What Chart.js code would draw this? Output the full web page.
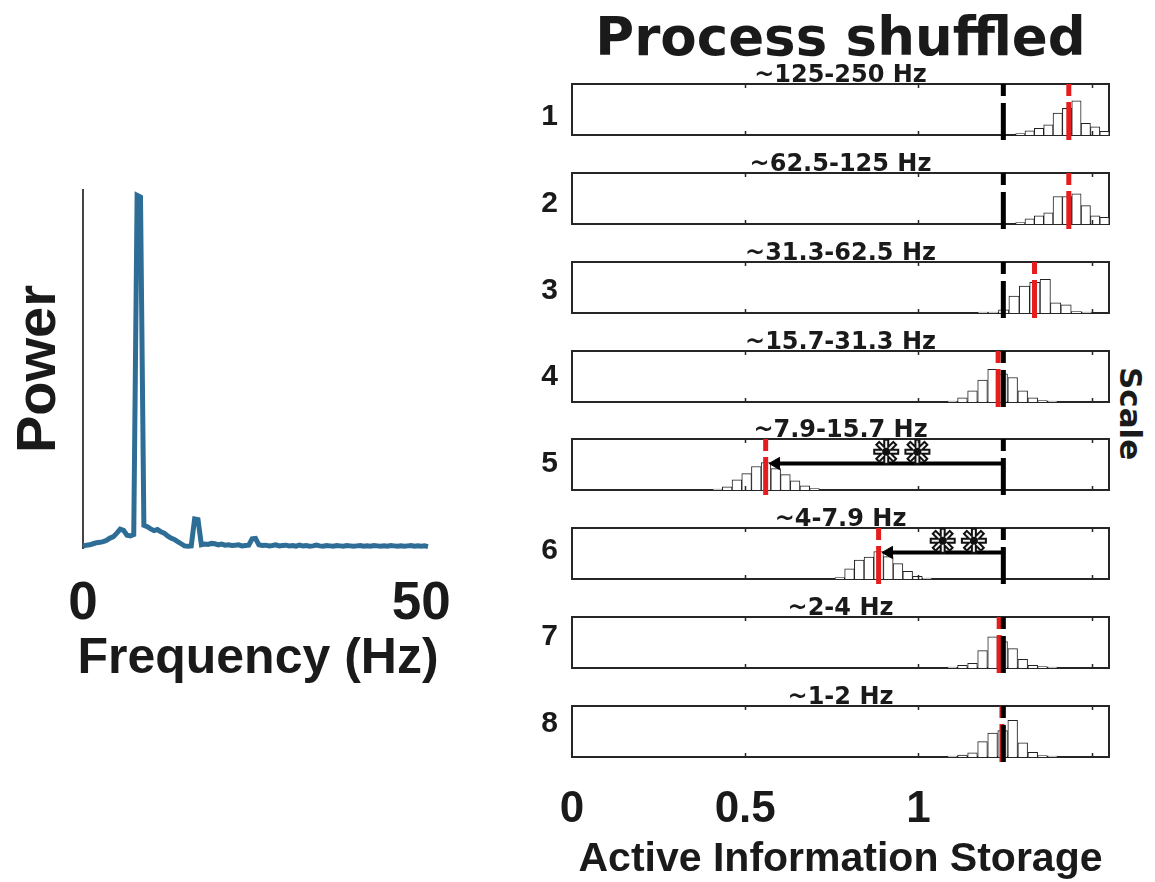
<!DOCTYPE html>
<html>
<head>
<meta charset="utf-8">
<script src="https://cdn.jsdelivr.net/npm/chart.js@4.4.1/dist/chart.umd.min.js"></script>
<style>
  html, body { margin: 0; padding: 0; background: #ffffff; }
  body { width: 1155px; height: 882px; position: relative; overflow: hidden; }
  canvas { position: absolute; }
  #scaleLabel {
    position: absolute; left: 1114px; top: 367px;
    writing-mode: vertical-rl;
    font: bold 31px 'DejaVu Sans', sans-serif; color: #1a1a1a; line-height: 34px;
  }
</style>
</head>
<body>
<canvas id="spec" width="516" height="560" style="left:0px;top:150px"></canvas>
<div id="scaleLabel">Scale</div>
<script>
// ---------------- DATA ----------------
// Left panel: power spectrum
const freqHz = [
  0,0.5,1,1.5,2,2.5,3,3.5,4,4.5,
  5,5.5,6,6.5,7,7.5,8,8.5,9,9.5,
  10,10.5,11,11.5,12,12.5,13,13.5,14,14.5,
  15,15.5,16,16.5,17,17.5,18,18.5,19,19.5,
  20,20.5,21,21.5,22,22.5,23,23.5,24,24.5,
  25,25.5,26,26.5,27,27.5,28,28.5,29,29.5,
  30,30.5,31,31.5,32,32.5,33,33.5,34,34.5,
  35,35.5,36,36.5,37,37.5,38,38.5,39,39.5,
  40,40.5,41,41.5,42,42.5,43,43.5,44,44.5,
  45,45.5,46,46.5,47,47.5,48,48.5,49,49.5,
  50,50.5,51
];
const powerValues = [
  0.5,0.8,0.9,1.2,1.5,1.6,1.8,2.2,2.8,3.2,
  4.2,5.3,5.0,3.6,3.4,3.8,99.5,99,6.4,6.0,
  5.4,4.9,5.2,4.6,4.2,3.4,2.8,2.4,1.8,1.2,
  0.6,0.5,0.6,8.2,8.0,0.9,1.1,1.0,1.3,1.2,
  0.9,1.1,0.8,0.9,0.7,0.8,0.9,0.6,0.7,0.8,
  2.6,2.7,0.9,0.7,0.8,0.6,0.7,0.9,0.6,0.7,
  0.8,0.6,0.7,0.5,0.8,0.6,0.7,0.5,0.6,0.8,
  0.6,0.5,0.7,0.6,0.5,0.7,0.6,0.5,0.7,0.6,
  0.5,0.6,0.7,0.5,0.6,0.5,0.7,0.6,0.5,0.6,
  0.5,0.7,0.6,0.5,0.6,0.5,0.6,0.7,0.5,0.6,
  0.5,0.6,0.4
];
const freqTicks = [0, 50];

// Right panels: AIS surrogate histograms per scale
const scaleLabels = ['1','2','3','4','5','6','7','8'];
const bandLabels = ['~125-250 Hz','~62.5-125 Hz','~31.3-62.5 Hz','~15.7-31.3 Hz',
                    '~7.9-15.7 Hz','~4-7.9 Hz','~2-4 Hz','~1-2 Hz'];
const originalAIS = 1.245;
const shuffledMeanAIS = [1.434, 1.434, 1.335, 1.230, 0.559, 0.885, 1.233, 1.241];
const significance = ['', '', '', '', '**', '**', '', ''];
const aisTicks = [0, 0.5, 1];
const aisMinorTicks = [0.5, 1, 1.5];

const bins1 = [1.294,1.321,1.348,1.375,1.402,1.429,1.456,1.483,1.510,1.537];
const counts1 = [3, 8, 13, 20, 43, 52, 67, 23, 16, 7];
const bins2 = [1.294,1.321,1.348,1.375,1.402,1.429,1.456,1.483,1.510,1.537];
const counts2 = [3, 10, 16, 22, 54, 54, 59, 36, 16, 13];
const bins3 = [1.186,1.216,1.246,1.276,1.306,1.336,1.366,1.396,1.426,1.456,1.486];
const counts3 = [2, 2, 6, 33, 53, 60, 66, 20, 16, 3, 2];
const bins4 = [1.098,1.127,1.156,1.185,1.214,1.243,1.272,1.301,1.330,1.358,1.387];
const counts4 = [2, 8, 22, 43, 64, 55, 48, 22, 8, 3, 2];
const bins5 = [0.420,0.448,0.476,0.504,0.532,0.560,0.588,0.616,0.644,0.672,0.700];
const counts5 = [2, 6, 20, 32, 46, 54, 42, 30, 18, 8, 3];
const bins6 = [0.773,0.801,0.829,0.857,0.885,0.913,0.941,0.969,0.997,1.025];
const counts6 = [3, 20, 37, 43, 54, 44, 30, 15, 5, 2];
const bins7 = [1.098,1.127,1.156,1.185,1.214,1.243,1.272,1.301,1.330,1.358,1.387];
const counts7 = [2, 5, 9, 34, 61, 52, 38, 17, 5, 3, 2];
const bins8 = [1.098,1.127,1.156,1.185,1.214,1.243,1.272,1.301,1.330,1.358,1.387];
const counts8 = [2, 4, 8, 30, 47, 52, 72, 28, 9, 3, 2];

const allBins = [bins1, bins2, bins3, bins4, bins5, bins6, bins7, bins8];
const allCounts = [counts1, counts2, counts3, counts4, counts5, counts6, counts7, counts8];

// ---------------- STYLE / LAYOUT ----------------
const TEXT = '#1a1a1a';
const ARIAL = "'Liberation Sans', Arial, sans-serif";
const DEJAVU = "'DejaVu Sans', sans-serif";
const BOX = '#262626';
const PANEL_TOPS = [84, 173, 262, 351, 439, 528, 617, 706];
const BOX_H = 51;
const LABEL_POS = [35, 40, 44, 49, 52, 56, 61, 65]; // vertical placement of panel numbers (% of box)

// ---------------- LEFT: power spectrum ----------------
new Chart(document.getElementById('spec'), {
  type: 'line',
  data: {
    datasets: [{
      data: freqHz.map((f, i) => ({ x: f, y: powerValues[i] })),
      borderColor: '#2e6e96',
      borderWidth: 5,
      pointRadius: 0,
      tension: 0,
      borderJoinStyle: 'miter',
      clip: false
    }]
  },
  options: {
    responsive: false, animation: false, events: [],
    layout: { autoPadding: false, padding: { top: 40, right: 0, left: 0, bottom: 0 } },
    plugins: {
      legend: { display: false }, tooltip: { enabled: false },
      title: { display: true, position: 'bottom', fullSize: true, text: 'Frequency (Hz)', color: TEXT,
               font: { family: ARIAL, weight: 'bold', size: 50, lineHeight: 1 },
               padding: { top: 0, bottom: 26 } }
    },
    scales: {
      x: {
        type: 'linear', min: 0, max: 51,
        grid: { display: false, drawTicks: false },
        border: { display: false },
        afterBuildTicks: s => { s.ticks = freqTicks.map(v => ({ value: v })); },
        ticks: { padding: 25, color: TEXT, maxRotation: 0, font: { family: ARIAL, weight: 'bold', size: 53 } },
        afterFit: s => { s.height = 86; s.paddingLeft = 0; s.paddingRight = 0; }
      },
      y: {
        type: 'linear', min: 0, max: 101,
        grid: { display: false, drawTicks: false },
        border: { display: true, color: '#444444', width: 2 },
        ticks: { display: false },
        title: { display: true, text: 'Power', color: TEXT,
                 font: { family: ARIAL, weight: 'bold', size: 56 }, padding: { top: 6, bottom: 0 } },
        afterFit: s => { s.width = 83; }
      },
      yPad: {
        type: 'linear', position: 'right', display: true,
        grid: { display: false, drawTicks: false },
        border: { display: false },
        ticks: { display: false },
        afterFit: s => { s.width = 88; s.paddingTop = 0; s.paddingBottom = 0; }
      }
    }
  }
});

// ---------------- RIGHT: histogram panels ----------------
const innerTicks = {
  id: 'innerTicks',
  afterDatasetsDraw(chart) {
    const { ctx, chartArea, scales } = chart;
    ctx.save();
    ctx.strokeStyle = BOX; ctx.lineWidth = 1.5;
    aisMinorTicks.forEach(v => {
      const px = Math.round(scales.x.getPixelForValue(v)) + 0.5;
      ctx.beginPath();
      ctx.moveTo(px, chartArea.bottom); ctx.lineTo(px, chartArea.bottom - 4);
      ctx.moveTo(px, chartArea.top); ctx.lineTo(px, chartArea.top + 4);
      ctx.stroke();
    });
    ctx.restore();
  }
};

for (let k = 0; k < 8; k++) {
  const isFirst = k === 0, isLast = k === 7;
  const canvasTop = isFirst ? 0 : PANEL_TOPS[k] - 30;
  const chartTop = PANEL_TOPS[k] - canvasTop;
  const height = isLast ? 882 - canvasTop : chartTop + BOX_H + 10;
  const cv = document.createElement('canvas');
  cv.width = 655; cv.height = height;
  cv.style.left = '500px'; cv.style.top = canvasTop + 'px';
  document.body.appendChild(cv);

  const red = shuffledMeanAIS[k];
  const datasets = [
    { type: 'line', label: 'process AIS',
      data: [{ x: originalAIS, y: 100 }, { x: originalAIS, y: -10 }],
      borderColor: '#000000', borderWidth: 5, borderDash: [12, 7, 200, 0],
      pointRadius: 0, clip: false, order: 1 },
    { type: 'line', label: 'shuffled mean',
      data: [{ x: red, y: 100 }, { x: red, y: -10 }],
      borderColor: '#e41e1e', borderWidth: 5, borderDash: [12, 6, 200, 0],
      pointRadius: 0, clip: false, order: 2 },
    { type: 'bar', label: 'surrogates',
      data: allBins[k].map((b, i) => ({ x: b, y: allCounts[k][i] })),
      backgroundColor: '#ffffff', borderColor: '#222222', borderWidth: 1,
      barPercentage: 1, categoryPercentage: 1, order: 3 }
  ];
  if (significance[k]) {
    const arrowY = 52;
    datasets.push({
      type: 'line', label: 'difference',
      data: [{ x: originalAIS, y: arrowY }, { x: red + 0.03, y: arrowY }],
      borderColor: '#000000', borderWidth: 4,
      pointRadius: [0, 7], pointStyle: 'triangle', pointRotation: 270,
      pointBackgroundColor: '#000000', pointBorderColor: '#000000', pointBorderWidth: 1,
      clip: false, order: 0
    });
    const mid = (originalAIS + red) / 2 + 0.05;
    const stars = significance[k].length;
    const pts = [];
    for (let s = 0; s < stars; s++) pts.push({ x: mid + (s - (stars - 1) / 2) * 0.09, y: 75 });
    // outlined asterisk markers: dark outline, light core, dark centre
    datasets.push({
      type: 'scatter', label: 'significance', data: pts,
      pointStyle: 'star', pointRadius: 13, borderColor: '#111111', borderWidth: 6,
      showLine: false, clip: false, order: -1
    });
    datasets.push({
      type: 'scatter', label: 'significance core', data: pts,
      pointStyle: 'star', pointRadius: 11, borderColor: '#f2f2f2', borderWidth: 2,
      showLine: false, clip: false, order: -2
    });
    datasets.push({
      type: 'scatter', label: 'significance centre', data: pts,
      pointStyle: 'circle', pointRadius: 4, backgroundColor: '#111111', borderColor: '#111111', borderWidth: 0,
      showLine: false, clip: false, order: -3
    });
  }

  const bandTitle = {
    display: true, text: isFirst ? 'Process shuffled' : bandLabels[k], color: TEXT, fullSize: false,
    font: isFirst ? { family: DEJAVU, weight: 'bold', size: 53, lineHeight: 0.96 }
                  : { family: DEJAVU, weight: 'bold', size: 24, lineHeight: 0.75 },
    padding: isFirst ? { top: 16, bottom: 0 } : { top: chartTop - 17, bottom: -1 }
  };
  const subTitle = {
    display: isFirst, text: bandLabels[0], color: TEXT, fullSize: false,
    font: { family: DEJAVU, weight: 'bold', size: 24, lineHeight: 0.75 },
    padding: { top: 0, bottom: -1 }
  };
  const border = { display: true, color: BOX, width: 2 };

  new Chart(cv, {
    type: 'bar',
    data: { datasets },
    plugins: [innerTicks],
    options: {
      responsive: false, animation: false, events: [],
      layout: { autoPadding: false, padding: { top: 0, right: 46, left: 0, bottom: isLast ? 0 : 10 } },
      plugins: { legend: { display: false }, tooltip: { enabled: false },
                 title: bandTitle, subtitle: subTitle },
      scales: {
        x: {
          type: 'linear', position: 'bottom', min: 0, max: 1.55, offset: false,
          grid: { display: false, drawTicks: false }, border,
          afterBuildTicks: s => { s.ticks = aisTicks.map(v => ({ value: v })); },
          ticks: { display: isLast, padding: 26, color: TEXT, maxRotation: 0, autoSkip: false,
                   callback: v => String(v),
                   font: { family: ARIAL, weight: 'bold', size: 44 } },
          title: { display: isLast, text: 'Active Information Storage', color: TEXT,
                   font: { family: ARIAL, weight: 'bold', size: 41, lineHeight: 1.1 },
                   padding: { top: 0, bottom: 0 } },
          afterFit: s => { s.height = isLast ? 125 : 0; s.paddingLeft = 0; s.paddingRight = 0; }
        },
        x2: {
          type: 'linear', position: 'top', min: 0, max: 1.55, offset: false,
          grid: { display: false, drawTicks: false }, border,
          ticks: { display: false },
          afterFit: s => { s.height = 0; s.paddingLeft = 0; s.paddingRight = 0; }
        },
        y: {
          type: 'linear', position: 'left', min: 0, max: 100,
          grid: { display: false, drawTicks: false }, border,
          afterBuildTicks: s => { s.ticks = [{ value: LABEL_POS[k] }]; },
          ticks: { padding: 14, color: TEXT, callback: () => scaleLabels[k],
                   font: { family: ARIAL, weight: 'bold', size: 30 } },
          afterFit: s => { s.width = 72; s.paddingTop = 0; s.paddingBottom = 0; }
        },
        y2: {
          type: 'linear', position: 'right', min: 0, max: 100,
          grid: { display: false, drawTicks: false }, border,
          ticks: { display: false },
          afterFit: s => { s.width = 0; s.paddingTop = 0; s.paddingBottom = 0; }
        }
      }
    }
  });
}
</script>
</body>
</html>
